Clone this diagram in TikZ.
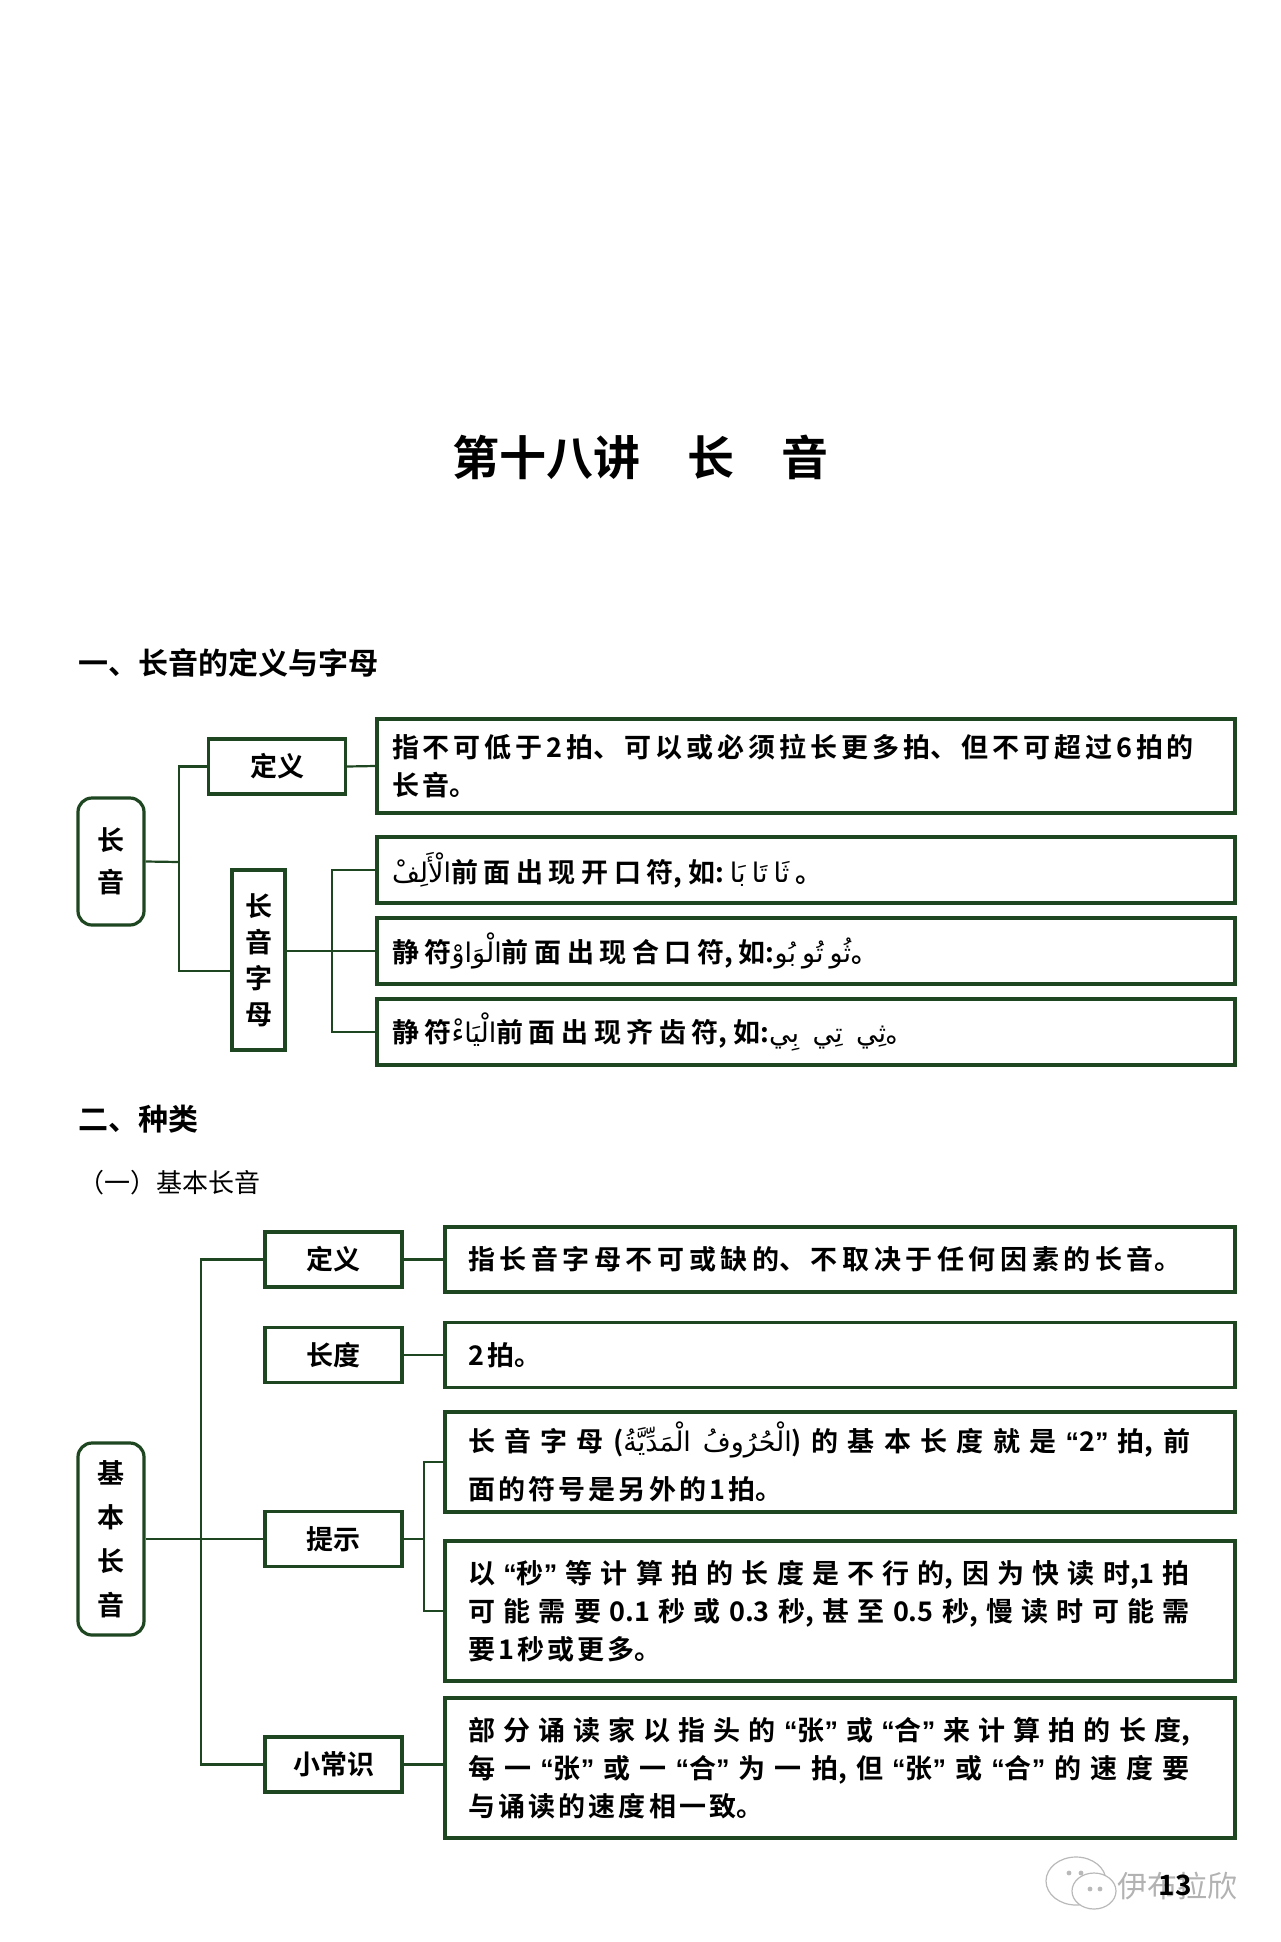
\documentclass[tikz,border=0pt]{standalone}
\usepackage{fontspec}
\setmainfont{Noto Sans CJK SC}[BoldFont={Noto Sans CJK SC Bold}]
\newfontfamily\boxfont{Noto Sans CJK SC Bold}
\newfontfamily\headfont{Noto Sans CJK SC Bold}
\newfontfamily\subfont{Noto Sans CJK SC}
\newfontfamily\quotefont{Liberation Sans}
\newfontfamily\arabicfont[Script=Arabic,Scale=1.0]{DejaVu Sans}
\TeXXeTstate=1
\XeTeXlinebreaklocale "zh"
\XeTeXlinebreakskip=1.6pt plus 4pt
\usetikzlibrary{positioning}
\definecolor{boxgreen}{RGB}{30,70,32}
\newcommand\artxt[1]{{\arabicfont\beginR #1\endR}}
\newcommand\qt[1]{\hskip\XeTeXlinebreakskip{\quotefont\bfseries “}#1{\quotefont\bfseries ”}\hskip\XeTeXlinebreakskip}
\newcommand\defpar[1]{\makebox[414pt][l]{\parbox{401pt}{#1}}}
\newcommand\infopar[1]{\makebox[372pt][l]{\parbox{361pt}{#1}}}
\newcommand\wide{\XeTeXlinebreakskip=2.8pt plus 4pt\relax}

\begin{document}
\begin{tikzpicture}[x=0.5pt,y=-0.5pt,
    link/.style={draw=boxgreen,line width=1.1pt},
    root/.style={draw=boxgreen,line width=1.6pt,rounded corners=7pt,minimum width=33pt,
        inner sep=0pt,align=center,font=\boxfont\fontsize{13.5pt}{21pt}\selectfont},
    tag/.style={draw=boxgreen,line width=1.6pt,minimum width=68.5pt,minimum height=27.5pt,
        inner sep=0pt,font=\boxfont\fontsize{13.5pt}{16pt}\selectfont},
    note/.style={draw=boxgreen,line width=1.6pt,inner ysep=0pt,
        font=\boxfont\fontsize{13.5pt}{19pt}\selectfont},
    defbox/.style={note,inner xsep=7.5pt,minimum width=429pt},
    infobox/.style={note,inner xsep=11.5pt,minimum width=395pt}]
\useasboundingbox (0,0) rectangle (1280,1942);

% title and headings
\node (title) at (640,457) {\headfont\fontsize{23.5pt}{24pt}\selectfont\XeTeXlinebreakskip=1pt 第十八讲\hspace{1em}长\hspace{1em}音};
\node[anchor=west,inner sep=0pt] (sec1) at (78,663) {\headfont\fontsize{15pt}{18pt}\selectfont 一、长音的定义与字母};
\node[anchor=west,inner sep=0pt] (sec2) at (78,1119) {\headfont\fontsize{15pt}{18pt}\selectfont 二、种类};
\node[anchor=west,inner sep=0pt] (sub1) at (78,1183) {\subfont\fontsize{13pt}{15pt}\selectfont\XeTeXlinebreakskip=0pt （一）基本长音};

% part one
\node[root,minimum height=63.5pt] (r1) at (111,861.5) {长\\音};
\node[tag] (d1) at (277,766.5) {定义};
\node[draw=boxgreen,line width=1.6pt,minimum width=26.5pt,minimum height=90pt,inner sep=0pt,
    align=center,font=\boxfont\fontsize{13.5pt}{18pt}\selectfont] (z1) at (258.5,960) {长\\音\\字\\母};
\node[defbox,minimum height=47pt] (b1) at (806,766)
    {\defpar{指不可低于2拍、可以或必须拉长更多拍、但不可超过6拍的\linebreak 长音。}};
\node[defbox,minimum height=33pt] (b2) at (806,870)
    {\defpar{\wide\artxt{الْأَلِفْ}前面出现开口符,如:\ \artxt{بَا}\ \artxt{تَا}\ \artxt{ثَا}\ 。}};
\node[defbox,minimum height=33pt] (b3) at (806,951)
    {\defpar{\wide 静符\artxt{الْوَاوْ}前面出现合口符,如:\artxt{بُو}\ \artxt{تُو}\ \artxt{ثُو}。}};
\node[defbox,minimum height=33pt] (b4) at (806,1032)
    {\defpar{\wide 静符\artxt{الْيَاءْ}前面出现齐齿符,如:\artxt{بِي}\enspace\artxt{تِي}\enspace\artxt{ثِي}。}};

\coordinate (j1) at (179,862);
\coordinate (j2) at (332,951);
\draw[link] (r1.east) -- (j1);
\draw[link] (d1.west) -| (j1);
\draw[link] (j1) |- ([yshift=-5.5pt]z1.west);
\draw[link] (d1.east) -- (b1.west);
\draw[link] (z1.east |- b3.west) -- (b3.west);
\draw[link] (b2.west) -| (j2) |- (b4.west);

% part two
\node[root,minimum height=96pt,font=\boxfont\fontsize{13.5pt}{22pt}\selectfont] (r2) at (111,1539) {基\\本\\长\\音};
\node[tag] (d2) at (333.5,1259.5) {定义};
\node[tag] (l2) at (333.5,1355) {长度};
\node[tag] (h2) at (333.5,1539) {提示};
\node[tag] (s2) at (333.5,1764.5) {小常识};
\node[infobox,minimum height=32.5pt] (c1) at (840,1259.5)
    {\infopar{\XeTeXlinebreakskip=2.3pt plus 4pt\relax 指长音字母不可或缺的、不取决于任何因素的长音。}};
\node[infobox,minimum height=32.5pt] (c2) at (840,1355) {\infopar{2拍。}};
\node[infobox,minimum height=50pt,font=\boxfont\fontsize{13.5pt}{24pt}\selectfont] (c3) at (840,1462)
    {\infopar{长音字母(\artxt{الْحُرُوفُ الْمَدِّيَّةُ})的基本长度就是\qt{2}拍,前\linebreak 面的符号是另外的1拍。}};
\node[infobox,minimum height=70pt] (c4) at (840,1611)
    {\infopar{以\qt{秒}等计算拍的长度是不行的,因为快读时,1拍\linebreak 可能需要0.1秒或0.3秒,甚至0.5秒,慢读时可能需\linebreak 要1秒或更多。}};
\node[infobox,minimum height=70pt] (c5) at (840,1768)
    {\infopar{部分诵读家以指头的\qt{张}或\qt{合}来计算拍的长度,\linebreak 每一\qt{张}或一\qt{合}为一拍,但\qt{张}或\qt{合}的速度要\linebreak 与诵读的速度相一致。}};

\coordinate (j3) at (201,1539);
\coordinate (j4) at (424,1539);
\draw[link] (r2.east) -- (h2.west);
\draw[link] (d2.west) -| (j3) |- (s2.west);
\draw[link] (d2.east) -- (c1.west);
\draw[link] (l2.east) -- (c2.west);
\draw[link] (h2.east) -- (j4);
\draw[link] (c3.west) -| (j4) |- (c4.west);
\draw[link] (s2.east) -- (s2.east -| c5.west);

% watermark and page number
\draw[gray!55,line width=0.6pt,fill=white] (1076,1881) ellipse (15pt and 12pt);
\draw[gray!55,line width=0.6pt,fill=white] (1094,1891) ellipse (11pt and 9pt);
\foreach \ex/\ey in {1069/1873,1081/1873,1090/1889,1100/1889}
    \fill[gray!55] (\ex,\ey) circle (1.2pt);
\node[text=gray!60] (mark) at (1177,1886) {\subfont\fontsize{15pt}{15pt}\selectfont 伊布拉欣};
\node (page) at (1175,1885) {\headfont\fontsize{14pt}{14pt}\selectfont 13};
\end{tikzpicture}
\end{document}
